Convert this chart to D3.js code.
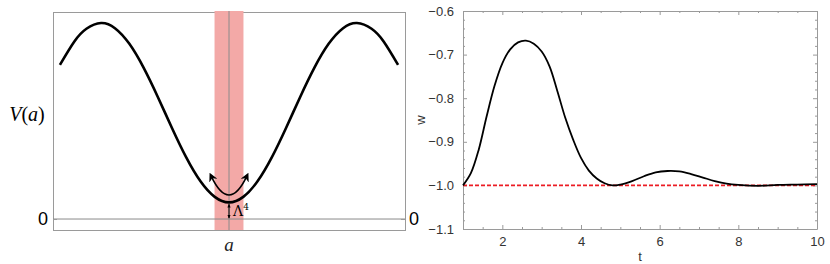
<!DOCTYPE html>
<html>
<head>
<meta charset="utf-8">
<script src="https://cdn.jsdelivr.net/npm/d3@7"></script>
<style>
  body { margin: 0; background: #fff; }
  svg { display: block; }
  .tick text { font-family: "Liberation Sans", Arial, sans-serif; }
</style>
</head>
<body>
<div class="chart"></div>
<script>
var aVals = [-4.15, -3.8, -3.5, -3.14, -2.8, -2.45, -2.1, -1.75, -1.4, -1.05, -0.7, -0.35, 0,
             0.35, 0.7, 1.05, 1.4, 1.75, 2.1, 2.45, 2.8, 3.14, 3.5, 3.8, 4.15];
var vVals = [1.573, 1.809, 1.941, 2.0, 1.947, 1.790, 1.547, 1.248, 0.929, 0.629, 0.385, 0.226, 0.17,
             0.226, 0.385, 0.629, 0.929, 1.248, 1.547, 1.790, 1.947, 2.0, 1.941, 1.809, 1.573];
var bandA = [-0.355, 0.355];   // shaded region around the minimum
var lambda4 = 0.17;            // height of minimum above zero

// w(t)
var tVals = [1.0, 1.2, 1.4, 1.6, 1.8, 2.0, 2.2, 2.4, 2.6, 2.8, 3.0, 3.2, 3.4, 3.6, 3.8, 4.0, 4.2, 4.4,
             4.6, 4.8, 5.0, 5.3, 5.6, 5.9, 6.2, 6.5, 6.8, 7.1, 7.4, 7.7, 8.0, 8.5, 9.0, 9.5, 10];
var wVals = [-1.0, -0.972, -0.918, -0.842, -0.772, -0.72, -0.688, -0.672, -0.668, -0.675, -0.693,
             -0.727, -0.784, -0.845, -0.895, -0.937, -0.966, -0.984, -0.995, -1.0, -0.998, -0.99,
             -0.979, -0.970, -0.967, -0.968, -0.974, -0.982, -0.99, -0.996, -0.999, -1.001, -0.999,
             -0.998, -0.997];
var wRef = -1.0;
var tTicks = [2, 4, 6, 8, 10];
var wTicks = [-1.1, -1.0, -0.9, -0.8, -0.7, -0.6];

(function () {
  var width = 830, height = 264;
  var frameColor = "#9a9a9a";

  var svg = d3.select(".chart").append("svg")
    .attr("width", width).attr("height", height);

  var defs = svg.append("defs");
  defs.append("marker")
    .attr("id", "head")
    .attr("viewBox", "0 0 10 10")
    .attr("refX", 6).attr("refY", 5)
    .attr("markerWidth", 5.5).attr("markerHeight", 5.5)
    .attr("orient", "auto-start-reverse")
    .append("path").attr("d", "M0,0 L10,5 L0,10 L3,5 z").attr("fill", "#000");
  defs.append("marker")
    .attr("id", "smallhead")
    .attr("viewBox", "0 0 10 10")
    .attr("refX", 8).attr("refY", 5)
    .attr("markerWidth", 4).attr("markerHeight", 4)
    .attr("orient", "auto-start-reverse")
    .append("path").attr("d", "M0,1 L10,5 L0,9 z").attr("fill", "#000");

  // ---------- left panel ----------
  var xA = d3.scaleLinear().domain([-4.32, 4.32]).range([53, 405]);
  var yV = d3.scaleLinear().domain([-0.112, 2.112]).range([230, 12]);
  var left = svg.append("g");

  // frame
  left.append("rect")
    .attr("x", xA.range()[0] + 0.5).attr("y", yV.range()[1] + 0.5)
    .attr("width", xA.range()[1] - xA.range()[0])
    .attr("height", yV.range()[0] - yV.range()[1])
    .attr("fill", "none").attr("stroke", frameColor);

  // shaded band
  left.append("rect")
    .attr("x", xA(bandA[0])).attr("y", 11)
    .attr("width", xA(bandA[1]) - xA(bandA[0]))
    .attr("height", yV.range()[0] - 11)
    .attr("fill", "#f3a9a7");

  // bottom frame line shows through the band
  left.append("line")
    .attr("x1", xA(bandA[0])).attr("x2", xA(bandA[1]))
    .attr("y1", yV.range()[0] + 0.5).attr("y2", yV.range()[0] + 0.5)
    .attr("stroke", frameColor);

  // vertical line at a = 0
  left.append("line")
    .attr("x1", xA(0)).attr("x2", xA(0))
    .attr("y1", 11).attr("y2", yV.range()[0])
    .attr("stroke", "#8a8a8a").attr("stroke-width", 1);

  // zero line
  left.append("line")
    .attr("x1", xA.range()[0]).attr("x2", xA.range()[1])
    .attr("y1", yV(0)).attr("y2", yV(0))
    .attr("stroke", "#8a8a8a").attr("stroke-width", 1);

  // zero labels on both sides
  left.append("g")
    .attr("transform", "translate(" + xA.range()[0] + ",0)")
    .call(d3.axisLeft(yV).tickValues([0]).tickSize(-4).tickPadding(5).tickFormat(d3.format("d")))
    .call(function (g) {
      g.select(".domain").remove();
      g.selectAll(".tick line").attr("stroke", frameColor);
      g.selectAll(".tick text").attr("font-size", 18).attr("fill", "#000");
    });
  left.append("g")
    .attr("transform", "translate(" + xA.range()[1] + ",0)")
    .call(d3.axisRight(yV).tickValues([0]).tickSize(-4).tickPadding(4).tickFormat(d3.format("d")))
    .call(function (g) {
      g.select(".domain").remove();
      g.selectAll(".tick line").attr("stroke", frameColor);
      g.selectAll(".tick text").attr("font-size", 18).attr("fill", "#000");
    });

  // potential curve
  var potential = aVals.map(function (a, i) { return { a: a, v: vVals[i] }; });
  left.append("path")
    .datum(potential)
    .attr("fill", "none")
    .attr("stroke", "#000")
    .attr("stroke-width", 2.6)
    .attr("d", d3.line()
      .curve(d3.curveNatural)
      .x(function (d) { return xA(d.a); })
      .y(function (d) { return yV(d.v); }));

  // curved double arrow (oscillation)
  var p0 = [xA(-0.44), yV(0.44)], p2 = [xA(0.44), yV(0.44)], c = [xA(0), yV(0.05)];
  left.append("path")
    .attr("d", "M" + p0 + " Q" + c + " " + p2)
    .attr("fill", "none").attr("stroke", "#000").attr("stroke-width", 1.6)
    .attr("marker-start", "url(#head)").attr("marker-end", "url(#head)");

  // Lambda^4 gap arrow
  left.append("line")
    .attr("x1", xA(0)).attr("x2", xA(0))
    .attr("y1", yV(lambda4) + 2).attr("y2", yV(0) - 1)
    .attr("stroke", "#000").attr("stroke-width", 1)
    .attr("marker-start", "url(#smallhead)").attr("marker-end", "url(#smallhead)");
  var lt = left.append("text")
    .attr("x", xA(0) + 4).attr("y", yV(0) - 3)
    .attr("font-family", "'DejaVu Serif', 'Liberation Serif', serif")
    .attr("font-size", 14).attr("fill", "#000");
  lt.append("tspan").text("Λ");
  lt.append("tspan").attr("dy", -6).attr("font-size", 9).text("4");

  // axis labels
  var vl = left.append("text")
    .attr("x", 27).attr("y", 121)
    .attr("text-anchor", "middle")
    .attr("font-family", "'Liberation Serif', 'DejaVu Serif', serif")
    .attr("font-size", 20).attr("fill", "#000");
  vl.append("tspan").attr("font-style", "italic").text("V");
  vl.append("tspan").text("(");
  vl.append("tspan").attr("font-style", "italic").text("a");
  vl.append("tspan").text(")");
  left.append("text")
    .attr("x", xA(0)).attr("y", 251)
    .attr("text-anchor", "middle")
    .attr("font-family", "'Liberation Serif', 'DejaVu Serif', serif")
    .attr("font-style", "italic").attr("font-size", 19).attr("fill", "#222")
    .text("a");

  // ---------- right panel ----------
  var xT = d3.scaleLinear().domain([1, 10]).range([463, 817]);
  var yW = d3.scaleLinear().domain([-1.1, -0.6]).range([229, 11]);
  var right = svg.append("g");

  function styleAxis(g) {
    g.select(".domain").attr("stroke", frameColor);
    g.selectAll(".tick line").attr("stroke", frameColor);
    g.selectAll(".tick text").attr("font-size", 13).attr("fill", "#333");
  }
  function minor(g) {
    g.select(".domain").remove();
    g.selectAll(".tick line").attr("stroke", frameColor);
    g.selectAll(".tick text").remove();
  }

  var tMinor = d3.range(1, 10.01, 0.5).filter(function (v) { return v % 2 !== 0; });
  var wMinor = d3.range(-1.1, -0.595, 0.02).filter(function (v) {
    return Math.abs(Math.round(v * 10) - v * 10) > 1e-6;
  });

  // bottom
  right.append("g").attr("transform", "translate(0," + yW.range()[0] + ")")
    .call(d3.axisBottom(xT).tickValues(tTicks).tickSizeInner(-4).tickSizeOuter(0).tickPadding(8)
      .tickFormat(d3.format("d")))
    .call(styleAxis);
  right.append("g").attr("transform", "translate(0," + yW.range()[0] + ")")
    .call(d3.axisBottom(xT).tickValues(tMinor).tickSize(-2)).call(minor);
  // top
  right.append("g").attr("transform", "translate(0," + yW.range()[1] + ")")
    .call(d3.axisTop(xT).tickValues(tTicks).tickSizeInner(-4).tickSizeOuter(0).tickFormat(""))
    .call(styleAxis);
  right.append("g").attr("transform", "translate(0," + yW.range()[1] + ")")
    .call(d3.axisTop(xT).tickValues(tMinor).tickSize(-2)).call(minor);
  // left
  right.append("g").attr("transform", "translate(" + xT.range()[0] + ",0)")
    .call(d3.axisLeft(yW).tickValues(wTicks).tickSizeInner(-4).tickSizeOuter(0).tickPadding(9)
      .tickFormat(d3.format(".1f")))
    .call(styleAxis);
  right.append("g").attr("transform", "translate(" + xT.range()[0] + ",0)")
    .call(d3.axisLeft(yW).tickValues(wMinor).tickSize(-2)).call(minor);
  // right
  right.append("g").attr("transform", "translate(" + xT.range()[1] + ",0)")
    .call(d3.axisRight(yW).tickValues(wTicks).tickSizeInner(-4).tickSizeOuter(0).tickFormat(""))
    .call(styleAxis);
  right.append("g").attr("transform", "translate(" + xT.range()[1] + ",0)")
    .call(d3.axisRight(yW).tickValues(wMinor).tickSize(-2)).call(minor);

  // reference line w = -1
  right.append("line")
    .attr("x1", xT(1)).attr("x2", xT(10))
    .attr("y1", yW(wRef)).attr("y2", yW(wRef))
    .attr("stroke", "#ec1c24").attr("stroke-width", 1.7)
    .attr("stroke-dasharray", "4,2");

  // w(t) curve
  var wt = tVals.map(function (t, i) { return { t: t, w: wVals[i] }; });
  right.append("path")
    .datum(wt)
    .attr("fill", "none")
    .attr("stroke", "#000")
    .attr("stroke-width", 1.8)
    .attr("d", d3.line()
      .curve(d3.curveCatmullRom)
      .x(function (d) { return xT(d.t); })
      .y(function (d) { return yW(d.w); }));

  // axis titles
  right.append("text")
    .attr("x", (xT.range()[0] + xT.range()[1]) / 2).attr("y", 261)
    .attr("text-anchor", "middle")
    .attr("font-family", "'Liberation Sans', Arial, sans-serif")
    .attr("font-size", 13).attr("fill", "#333")
    .text("t");
  right.append("text")
    .attr("transform", "translate(425,120) rotate(-90)")
    .attr("text-anchor", "middle")
    .attr("font-family", "'Liberation Sans', Arial, sans-serif")
    .attr("font-size", 13).attr("fill", "#333")
    .text("w");
})();
</script>
</body>
</html>
